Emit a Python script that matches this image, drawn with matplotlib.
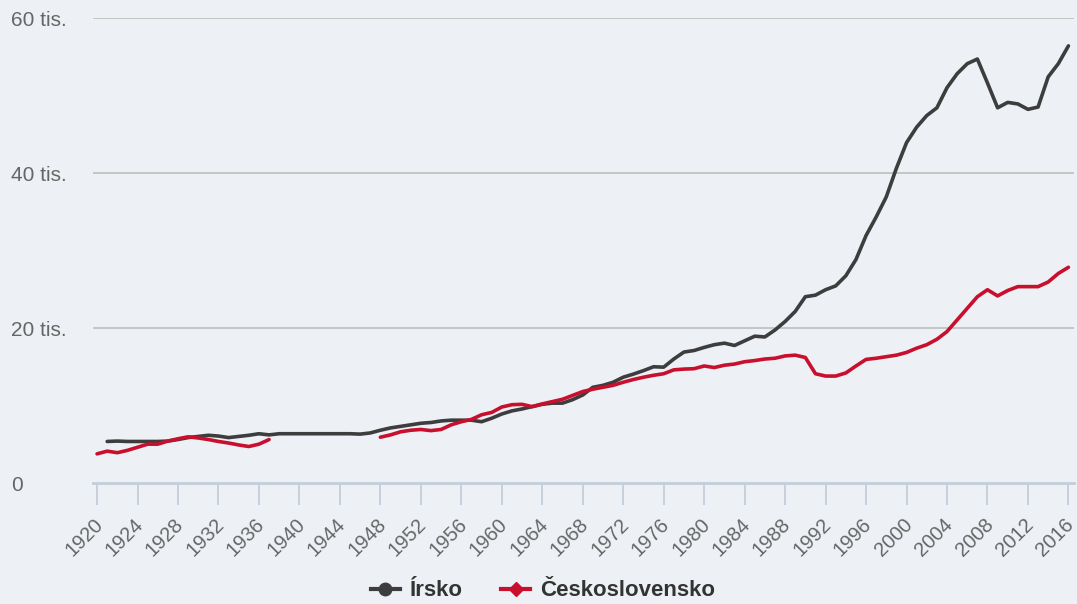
import numpy as np
import matplotlib.pyplot as plt
from matplotlib.lines import Line2D
import matplotlib.transforms as mtransforms

plt.rcParams['font.family'] = ['Liberation Sans', 'DejaVu Sans']

nan = np.nan
years = np.arange(1920, 2017)

# HDP na obyvatele, tisíce
irsko = [nan, 5.3, 5.35, 5.3, 5.3, 5.3, 5.3, 5.35, 5.55, 5.8,
         5.95, 6.1, 6.0, 5.8, 5.95, 6.1, 6.3, 6.15, 6.3, 6.3,
         6.3, 6.3, 6.3, 6.3, 6.3, 6.3, 6.25, 6.4, 6.75, 7.05,
         7.25, 7.45, 7.65, 7.75, 7.95, 8.05, 8.05, 8.05, 7.85, 8.3,
         8.85, 9.25, 9.5, 9.8, 10.1, 10.25, 10.25, 10.7, 11.3, 12.3,
         12.55, 12.95, 13.6, 14.0, 14.45, 14.95, 14.9, 15.95, 16.85, 17.05,
         17.45, 17.8, 18.0, 17.7, 18.3, 18.9, 18.8, 19.7, 20.8, 22.1,
         24.0, 24.2, 24.9, 25.4, 26.7, 28.8, 31.9, 34.3, 36.9, 40.6,
         43.9, 45.9, 47.4, 48.4, 51.0, 52.8, 54.1, 54.7, 51.6, 48.4,
         49.1, 48.9, 48.2, 48.5, 52.4, 54.1, 56.4]

ceskoslovensko = [3.7, 4.05, 3.85, 4.15, 4.55, 4.95, 4.95, 5.35, 5.65, 5.9,
                  5.75, 5.55, 5.3, 5.1, 4.85, 4.65, 4.95, 5.55, nan, nan,
                  nan, nan, nan, nan, nan, nan, nan, nan, 5.85, 6.15,
                  6.55, 6.75, 6.85, 6.7, 6.85, 7.45, 7.85, 8.15, 8.75, 9.05,
                  9.75, 10.05, 10.1, 9.8, 10.15, 10.45, 10.75, 11.25, 11.75, 12.05,
                  12.3, 12.55, 12.95, 13.3, 13.6, 13.85, 14.05, 14.55, 14.65, 14.7,
                  15.05, 14.85, 15.15, 15.3, 15.6, 15.75, 15.95, 16.05, 16.35, 16.45,
                  16.15, 14.05, 13.75, 13.75, 14.15, 15.05, 15.9, 16.05, 16.25, 16.45,
                  16.8, 17.35, 17.8, 18.5, 19.5, 21.0, 22.5, 24.0, 24.9, 24.1,
                  24.8, 25.3, 25.3, 25.3, 25.9, 27.0, 27.8]

labels = ['Írsko', 'Československo']
colors = ['#3d3d3d', '#c8102e']
yticks = [0, 20, 40, 60]
bg = '#edf1f5'

fig = plt.figure(figsize=(10.77, 6.04), dpi=100, facecolor=bg)
ax = fig.add_axes([93 / 1077, 1 - 482.5 / 604, 981 / 1077, 464.5 / 604])
ax.set_facecolor(bg)

ax.plot(years, irsko, color=colors[0], lw=2.6, solid_capstyle='round', zorder=3)
ax.plot(years, ceskoslovensko, color=colors[1], lw=2.6, solid_capstyle='round', zorder=3)

ax.set_xlim(1919.6, 2016.55)
ax.set_ylim(0, 60)

# y popisky vlevo zarovnané
ax.set_yticks([])
trans = mtransforms.blended_transform_factory(fig.transFigure, ax.transData)
trans = trans + mtransforms.ScaledTranslation(0, -3 / 100, fig.dpi_scale_trans)
for v in yticks:
    txt = '0' if v == 0 else f'{v} tis.'
    ax.text(11 / 1077, v, txt, transform=trans, ha='left', va='center',
            fontsize=15, color='#666666', clip_on=False)
for v in yticks[1:]:
    ax.axhline(v, color='#c2c2c2', lw=1.3, zorder=1)

xticks = np.arange(1920, 2017, 4)
ax.set_xticks(xticks)
ax.set_xticklabels([str(t) for t in xticks], rotation=45, ha='right', va='top',
                   rotation_mode='anchor')
ax.tick_params(axis='x', length=16, width=1.3, color='#c3cddb', labelsize=14.5,
               labelcolor='#666666', pad=7)
shift = mtransforms.ScaledTranslation(-4 / 100, 0, fig.dpi_scale_trans)
for lab in ax.get_xticklabels():
    lab.set_transform(lab.get_transform() + shift)

for s in ['top', 'right', 'left']:
    ax.spines[s].set_visible(False)
ax.spines['bottom'].set_color('#c3cddb')
ax.spines['bottom'].set_linewidth(2)

handles = [Line2D([], [], color=colors[0], lw=3, marker='o', markersize=9),
           Line2D([], [], color=colors[1], lw=3, marker='D', markersize=7)]
fig.legend(handles, labels, loc='center', bbox_to_anchor=(543 / 1077, 1 - 591 / 604),
           ncol=2, frameon=False, handlelength=1.3, handletextpad=0.45, columnspacing=1.75,
           prop={'weight': 'bold', 'size': 16})
for t in fig.legends[0].get_texts():
    t.set_color('#333333')

fig.savefig('out.png', dpi=100, facecolor=bg)
